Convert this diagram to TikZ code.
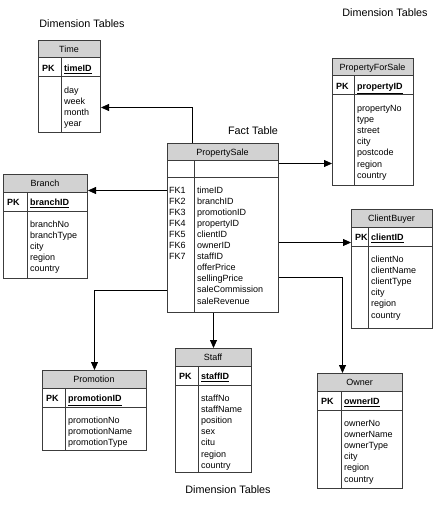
\documentclass[tikz,border=0pt]{standalone}
\usepackage{fontspec}
\setmainfont{Liberation Sans}
\usepackage{tikz}
\usetikzlibrary{arrows.meta}
\definecolor{headgray}{RGB}{210,210,210}
\definecolor{rulegray}{RGB}{60,60,60}

\begin{document}
\begin{tikzpicture}[x=1pt, y=-1pt, font=\fontsize{9}{11}\selectfont,
  tblbox/.style={draw=rulegray, line width=1pt, inner sep=0pt, anchor=north west},
  tblrule/.style={draw=rulegray, line width=1pt},
  fld/.style={anchor=base west, inner sep=0pt},
  caption/.style={font=\fontsize{10.8}{13}\selectfont},
  link/.style={draw=black, line width=0.8pt, -{Triangle[length=8pt,width=7pt]}}]
\useasboundingbox (0,0) rectangle (445,505);
% dimension tables: name/left/top/right/bottom/divider/title/key/attributes
\foreach \nm/\lx/\ty/\rx/\by/\dx/\ttl/\pk/\flds in {
  time/38/40/100/132/61/Time/timeID/{day,week,month,year},
  pfs/332/58/413/185/354/PropertyForSale/propertyID/{propertyNo,type,street,city,postcode,region,country},
  branch/3/174/87/278/27/Branch/branchID/{branchNo,branchType,city,region,country},
  client/351/209/432/328/368/ClientBuyer/clientID/{clientNo,clientName,clientType,city,region,country},
  promo/42/370/146/450/65/Promotion/promotionID/{promotionNo,promotionName,promotionType},
  staff/175/348/251/472/198/Staff/staffID/{staffNo,staffName,position,sex,citu,region,country},
  owner/317/373/402/488/341/Owner/ownerID/{ownerNo,ownerName,ownerType,city,region,country}}{
  \pgfmathsetmacro\boxw{\rx-\lx}
  \pgfmathsetmacro\boxh{\by-\ty}
  \fill[headgray] (\lx,\ty) rectangle (\rx,\ty+18);
  \draw[tblrule] (\lx,\ty+18) -- (\rx,\ty+18) (\lx,\ty+37) -- (\rx,\ty+37) (\dx,\ty+18) -- (\dx,\by);
  \node[tblbox, minimum width=\boxw pt, minimum height=\boxh pt] (\nm) at (\lx,\ty) {};
  \node[anchor=base] (\nm-title) at ({(\lx+\rx)/2},\ty+12.5) {\ttl};
  \node[fld] (\nm-pklbl) at (\lx+4,\ty+31.5) {\bfseries PK};
  \node[fld] (\nm-pk) at (\dx+3,\ty+31.5) {\bfseries\underline{\pk}};
  \foreach \f [count=\k] in \flds
    \node[fld] (\nm-f\k) at (\dx+3,\ty+53.5+\k*11.1-11.1) {\f};
}
% fact table
\fill[headgray] (167,143) rectangle (278,160);
\draw[tblrule] (167,160) -- (278,160) (167,177) -- (278,177) (194,160) -- (194,312);
\node[tblbox, minimum width=111pt, minimum height=169pt] (ps) at (167,143) {};
\node[anchor=base] (ps-title) at (222.5,155.5) {PropertySale};
\foreach \f [count=\k] in {timeID,branchID,promotionID,propertyID,clientID,ownerID,staffID,offerPrice,sellingPrice,saleCommission,saleRevenue}
  \node[fld] (ps-f\k) at (197,193+\k*11.1-11.1) {\f};
\foreach \k in {1,...,7}
  \node[fld] (ps-fk\k) at (169,193+\k*11.1-11.1) {FK\k};
% captions
\node[caption] (cap-tl) at (82,24) {Dimension Tables};
\node[caption] (cap-tr) at (385,13) {Dimension Tables};
\node[caption] (cap-fact) at (253,131) {Fact Table};
\node[caption] (cap-bot) at (228,490) {Dimension Tables};
% foreign key links
\coordinate (time-in) at ([yshift=-21pt]time.east);
\coordinate (pfs-in) at ([yshift=-41.5pt]pfs.west);
\coordinate (branch-in) at ([yshift=36pt]branch.east);
\coordinate (client-in) at ([yshift=26.5pt]client.west);
\coordinate (owner-in) at ([xshift=-17.5pt]owner.north);
\draw[link] ([xshift=25pt]ps.north west) |- (time-in);
\draw[link] (ps.east |- pfs-in) -- (pfs-in);
\draw[link] (ps.west |- branch-in) -- (branch-in);
\draw[link] (ps.east |- client-in) -- (client-in);
\draw[link] ([yshift=-49.5pt]ps.east) -| (owner-in);
\draw[link] ([yshift=-62.5pt]ps.west) -| (promo);
\draw[link] (ps.south -| staff) -- (staff);
\end{tikzpicture}
\end{document}
